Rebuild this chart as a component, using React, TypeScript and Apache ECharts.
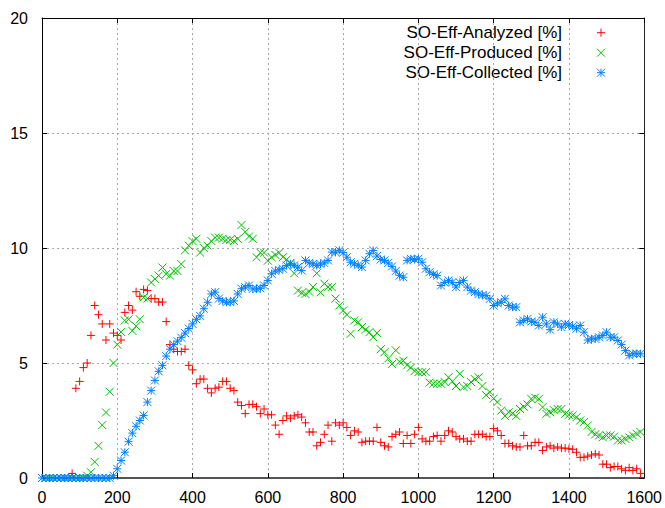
import React, { useEffect, useRef } from "react";
import * as echarts from "echarts";

// sampling grid of the three series (x in the same units as the x axis)
const STEP = 10;
const ANALYZED_START = 80;
const PRODUCED_START = 0;
const COLLECTED_START = 0;

const seriesNames = ["SO-Eff-Analyzed [%]", "SO-Eff-Produced [%]", "SO-Eff-Collected [%]"];
const seriesColors = ["#ff0000", "#00c000", "#0080ff"];

const analyzed = [
  0.2, 3.9, 4.2, 4.8, 5.0, 6.2, 7.5, 7.1, 6.7, 6.0, 6.7, 6.3, 6.2, 6.0, 7.2, 7.5, 7.3, 8.1, 7.9, 8.2,
  8.15, 7.8, 7.8, 7.65, 7.65, 6.8, 5.8, 5.6, 5.5, 5.5, 5.6, 4.9, 4.7, 4.1, 4.3, 4.3, 3.9, 3.7, 3.9, 3.95,
  4.2, 4.2, 3.9, 3.8, 3.3, 3.15, 2.8, 3.2, 3.2, 3.1, 2.8, 3.0, 2.75, 2.75, 2.3, 1.9, 2.5, 2.7, 2.6, 2.7,
  2.75, 2.65, 2.4, 2.0, 2.0, 1.4, 1.55, 1.9, 2.3, 1.6, 2.4, 2.3, 2.4, 2.2, 1.85, 2.05, 2.0, 1.55, 1.6, 1.6,
  1.6, 2.2, 1.55, 1.4, 1.35, 1.8, 1.9, 2.0, 1.5, 1.85, 1.5, 1.9, 2.2, 1.7, 1.6, 1.6, 1.8, 1.85, 1.6, 1.85,
  2.05, 2.0, 1.8, 1.7, 1.7, 1.6, 1.6, 1.9, 1.9, 1.9, 1.8, 1.8, 2.15, 2.05, 1.85, 1.5, 1.5, 1.4, 1.35, 1.35,
  1.85, 1.4, 1.4, 1.55, 1.55, 1.2, 1.35, 1.4, 1.3, 1.35, 1.3, 1.3, 1.27, 1.25, 1.12, 0.9, 0.9, 0.95, 1.0, 1.05,
  1.0, 0.6, 0.6, 0.45, 0.5, 0.5, 0.4, 0.33, 0.45, 0.33, 0.4, 0.2,
];

const produced = [
  0, 0, 0, 0, 0, 0, 0, 0, 0, 0, 0, 0, 0.1, 0.25, 0.7, 1.4, 2.3, 2.85, 3.75, 5.0,
  5.8, 6.35, 6.85, 6.9, 6.4, 6.6, 6.9, 7.85, 7.8, 8.5, 8.65, 8.8, 9.15, 8.87, 8.8, 9.0, 9.0, 9.3, 9.9, 10.1,
  10.3, 10.4, 9.8, 10.0, 10.1, 10.3, 10.45, 10.45, 10.4, 10.35, 10.35, 10.3, 10.4, 11.0, 10.7, 10.5, 10.4, 9.6, 9.8, 9.8,
  9.45, 9.6, 9.7, 9.8, 9.6, 9.5, 9.35, 8.9, 8.15, 8.05, 8.0, 8.1, 8.3, 8.9, 8.07, 8.45, 8.3, 8.3, 7.8, 7.5,
  7.28, 7.1, 6.27, 6.85, 6.77, 6.56, 6.45, 6.34, 6.12, 6.3, 5.6, 5.47, 5.2, 4.96, 5.55, 5.05, 5.1, 4.9, 4.8, 4.65,
  4.6, 4.6, 4.6, 4.15, 4.1, 4.1, 4.1, 4.17, 4.38, 4.2, 4.0, 4.53, 3.95, 4.0, 4.17, 4.3, 4.38, 4.0, 3.6, 3.73,
  3.45, 3.3, 2.93, 2.7, 2.86, 2.8, 2.7, 3.0, 3.1, 3.2, 3.44, 3.5, 3.44, 3.08, 2.79, 2.86, 2.95, 3.0, 3.0, 2.79,
  2.75, 2.72, 2.64, 2.5, 2.43, 2.28, 2.0, 1.9, 1.85, 1.77, 1.85, 1.85, 1.8, 1.63, 1.63, 1.7, 1.77, 1.85, 1.92, 2.0,
];

const collected = [
  0, 0, 0, 0, 0, 0, 0, 0, 0, 0, 0, 0, 0, 0, 0, 0, 0, 0, 0, 0.1,
  0.4, 0.76, 1.12, 1.58, 1.95, 2.25, 2.5, 2.72, 3.3, 3.8, 4.24, 4.64, 4.9, 5.3, 5.6, 5.8, 5.95, 6.1, 6.3, 6.5,
  6.7, 6.9, 7.05, 7.36, 7.64, 8.0, 8.08, 7.8, 7.7, 7.64, 7.65, 7.7, 8.0, 8.23, 8.3, 8.37, 8.22, 8.22, 8.25, 8.37,
  8.59, 8.88, 9.0, 9.05, 9.1, 9.24, 9.31, 9.25, 9.17, 9.02, 9.46, 9.35, 9.31, 9.24, 9.3, 9.35, 9.46, 9.82, 9.82, 9.9,
  9.8, 9.6, 9.38, 9.31, 9.25, 9.17, 9.46, 9.75, 9.89, 9.65, 9.5, 9.46, 9.35, 9.2, 9.0, 8.8, 8.73, 9.46, 9.53, 9.5,
  9.53, 9.38, 9.1, 8.95, 8.85, 8.8, 8.37, 8.5, 8.59, 8.51, 8.3, 8.5, 8.59, 8.3, 8.15, 8.08, 8.0, 7.95, 7.93, 7.79,
  7.5, 7.6, 7.64, 7.79, 7.5, 7.43, 7.43, 6.77, 6.85, 6.92, 6.8, 6.77, 6.63, 6.99, 6.7, 6.45, 6.77, 6.7, 6.56, 6.7,
  6.65, 6.6, 6.49, 6.63, 6.34, 6.0, 6.05, 6.05, 6.12, 6.2, 6.34, 6.12, 6.12, 5.98, 5.8, 5.54, 5.33, 5.4, 5.4, 5.4,
];

const X_MIN = 0;
const X_MAX = 1600;
const X_INTERVAL = 200;
const Y_MIN = 0;
const Y_MAX = 20;
const Y_INTERVAL = 5;

const PLUS = "path://M0,-4L0,4M-4,0L4,0";
const CROSS = "path://M-4,-4L4,4M-4,4L4,-4";
const STAR = "path://M0,-4L0,4M-4,0L4,0M-4,-4L4,4M-4,4L4,-4";
const symbols = [PLUS, CROSS, STAR];

const FONT = "Liberation Sans, Arial, sans-serif";

function toPoints(values: number[], start: number) {
  return values.map((v, i) => [start + i * STEP, v]);
}

function legendMarker(kind: number, cx: number, cy: number, color: string, r: number) {
  const lines: any[] = [];
  const st = { stroke: color, lineWidth: 1 };
  if (kind === 0 || kind === 2) {
    lines.push({ type: "line", shape: { x1: cx - r, y1: cy, x2: cx + r, y2: cy }, style: st, silent: true });
    lines.push({ type: "line", shape: { x1: cx, y1: cy - r, x2: cx, y2: cy + r }, style: st, silent: true });
  }
  if (kind === 1 || kind === 2) {
    lines.push({ type: "line", shape: { x1: cx - r, y1: cy - r, x2: cx + r, y2: cy + r }, style: st, silent: true });
    lines.push({ type: "line", shape: { x1: cx - r, y1: cy + r, x2: cx + r, y2: cy - r }, style: st, silent: true });
  }
  return lines;
}

export default function App() {
  const ref = useRef<HTMLDivElement>(null);

  useEffect(() => {
    if (!ref.current) return;
    const chart = echarts.init(ref.current, null, { renderer: "svg" });

    const dataSets = [
      toPoints(analyzed, ANALYZED_START),
      toPoints(produced, PRODUCED_START),
      toPoints(collected, COLLECTED_START),
    ];

    const splitLine = { show: true, lineStyle: { color: "#a8a8a8", type: [2, 3] as any, width: 1 } };
    const tick = { show: true, inside: true, length: 5, lineStyle: { color: "#000", width: 1 } };
    const plain = (v: number) => String(v);

    const legendRowsY = [32.7, 52.7, 72.7];
    const graphic: any[] = [];
    seriesNames.forEach((name, i) => {
      graphic.push({
        type: "text",
        x: 562,
        y: legendRowsY[i],
        silent: true,
        style: {
          text: name,
          textAlign: "right",
          textVerticalAlign: "middle",
          font: `17px ${FONT}`,
          fill: "#000",
        },
      });
      graphic.push(...legendMarker(i, 601, legendRowsY[i], seriesColors[i], 4));
    });

    chart.setOption({
      animation: false,
      backgroundColor: "#fff",
      grid: { left: 42, top: 18, width: 604, height: 460, containLabel: false },
      xAxis: [
        {
          type: "value",
          min: X_MIN,
          max: X_MAX,
          interval: X_INTERVAL,
          position: "bottom",
          axisLine: { show: true, onZero: false, lineStyle: { color: "#555", width: 2 } },
          axisTick: tick,
          axisLabel: { color: "#000", fontSize: 16, fontFamily: FONT, margin: 11, formatter: plain },
          splitLine,
        },
        {
          type: "value",
          min: X_MIN,
          max: X_MAX,
          interval: X_INTERVAL,
          position: "top",
          axisLine: { show: true, onZero: false, lineStyle: { color: "#000", width: 1 } },
          axisTick: tick,
          axisLabel: { show: false },
          splitLine: { show: false },
        },
      ],
      yAxis: [
        {
          type: "value",
          min: Y_MIN,
          max: Y_MAX,
          interval: Y_INTERVAL,
          position: "left",
          axisLine: { show: true, onZero: false, lineStyle: { color: "#000", width: 1 } },
          axisTick: tick,
          axisLabel: { color: "#000", fontSize: 16, fontFamily: FONT, margin: 14, formatter: plain },
          splitLine,
        },
        {
          type: "value",
          min: Y_MIN,
          max: Y_MAX,
          interval: Y_INTERVAL,
          position: "right",
          axisLine: { show: true, onZero: false, lineStyle: { color: "#222", width: 1 } },
          axisTick: tick,
          axisLabel: { show: false },
          splitLine: { show: false },
        },
      ],
      series: seriesNames.map((name, i) => ({
        name,
        type: "scatter",
        xAxisIndex: 0,
        yAxisIndex: 0,
        data: dataSets[i],
        symbol: symbols[i],
        symbolSize: 8,
        silent: true,
        z: 2 + i,
        itemStyle: { color: "none", borderColor: seriesColors[i], borderWidth: 1, opacity: 1 },
        emphasis: { disabled: true },
      })),
      graphic,
    });

    return () => chart.dispose();
  }, []);

  return (
    <div
      ref={ref}
      style={{ position: "absolute", left: 0, top: 0, width: 665, height: 508 }}
    />
  );
}
